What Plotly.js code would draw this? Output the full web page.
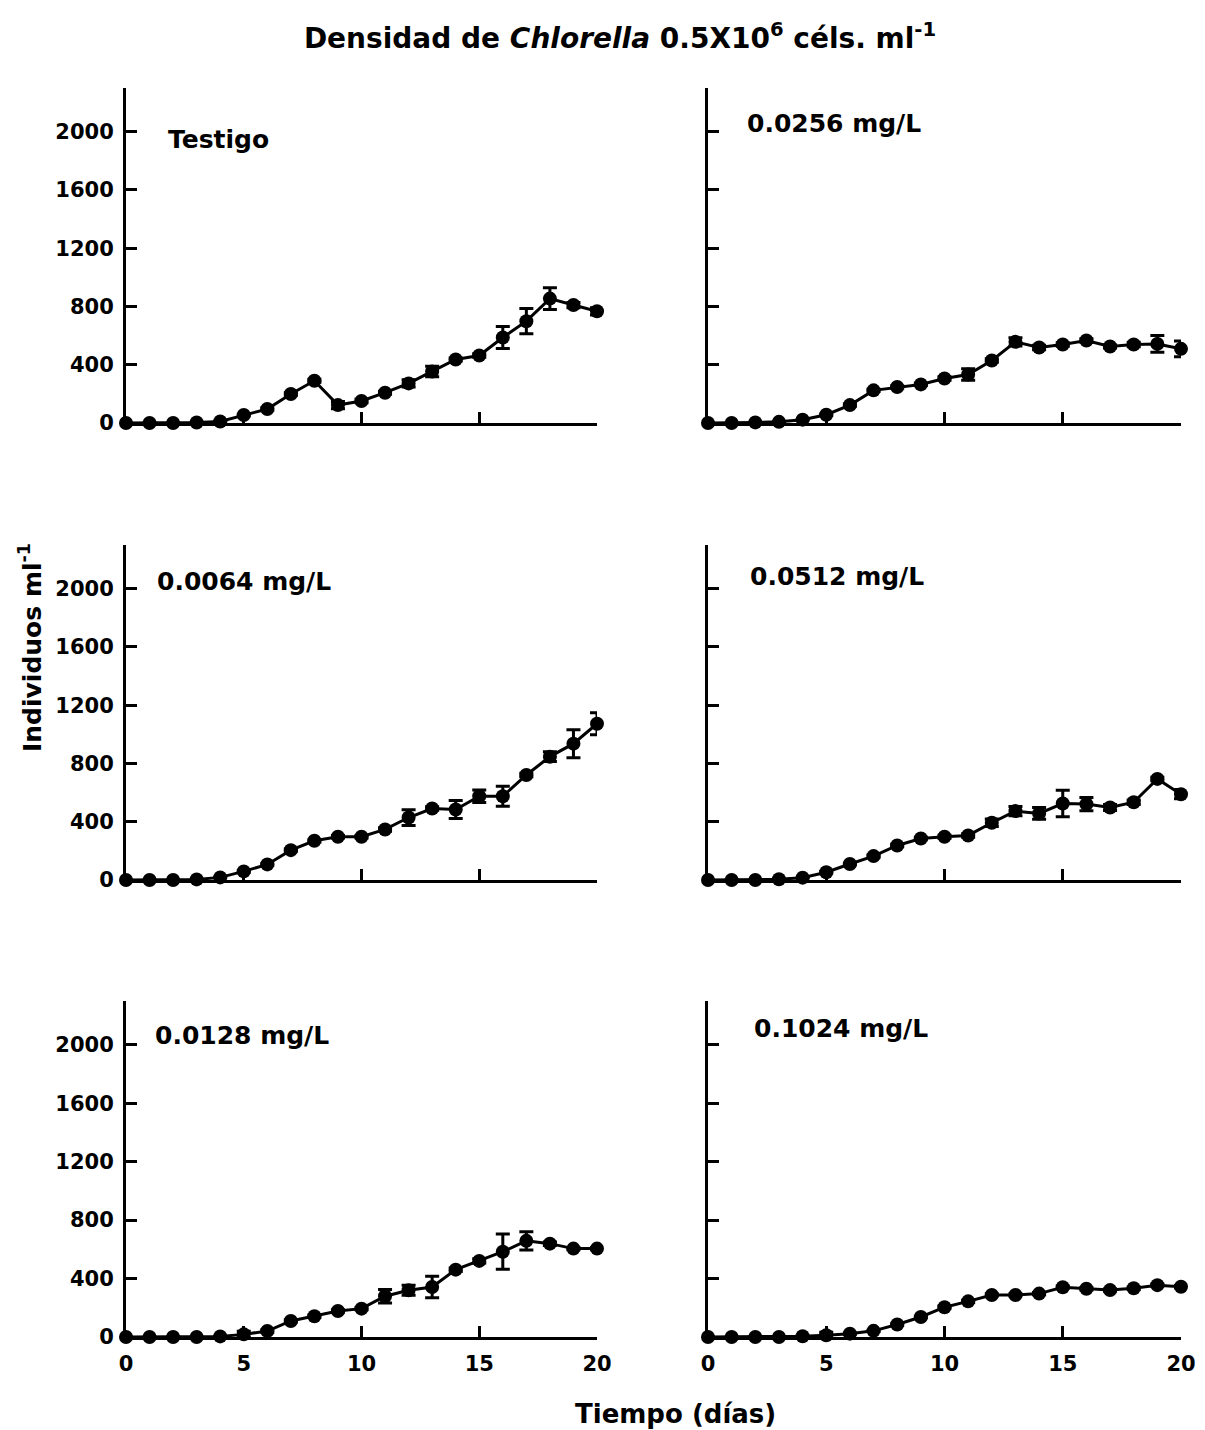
<!DOCTYPE html>
<html>
<head>
<meta charset="utf-8">
<script src="https://cdn.plot.ly/plotly-3.0.1.min.js"></script>
<style>
  html, body { margin: 0; padding: 0; background: #fff; }
  #chart { width: 1205px; height: 1430px; }
</style>
</head>
<body>
<div id="chart"></div>
<script>
// Days of culture
const days = [0,1,2,3,4,5,6,7,8,9,10,11,12,13,14,15,16,17,18,19,20];

// Mean density (individuals per ml) and error for each treatment
const testigoMean = [0,0,0,3,10,55,96,199,290,123,151,208,272,354,436,463,587,699,854,810,767];
const testigoErr  = [0,0,0,0,0,5,8,8,10,25,12,10,25,36,10,12,75,87,74,18,25];

const c0064Mean = [0,0,0,4,18,59,107,205,269,297,297,347,429,491,484,575,575,721,847,936,1073];
const c0064Err  = [0,0,0,0,0,5,5,8,8,8,8,12,54,12,62,43,68,12,34,96,75];

const c0128Mean = [0,0,0,0,4,18,41,110,142,178,194,279,320,342,461,521,584,658,639,605,605];
const c0128Err  = [0,0,0,0,0,22,8,8,8,8,8,46,34,73,12,15,121,63,12,8,8];

const c0256Mean = [0,0,4,8,23,57,123,224,247,265,306,333,429,557,518,539,566,525,539,543,509];
const c0256Err  = [0,0,0,0,0,5,8,8,8,8,12,40,12,29,15,12,12,10,15,57,54];

const c0512Mean = [0,0,0,5,16,53,110,164,237,285,297,306,393,473,457,525,521,498,534,694,589];
const c0512Err  = [0,0,0,0,0,5,5,8,8,8,10,12,25,32,40,91,46,20,15,12,32];

const c1024Mean = [0,0,0,0,5,12,23,42,86,137,204,244,288,288,297,341,330,321,334,355,344];
const c1024Err  = [0,0,0,0,0,20,5,5,5,5,8,8,8,8,8,8,8,8,8,8,8];

const panelLabels = ['Testigo','0.0256 mg/L','0.0064 mg/L','0.0512 mg/L','0.0128 mg/L','0.1024 mg/L'];
const xTicks = [0,5,10,15,20];
const yTicks = [0,400,800,1200,1600,2000];

// Panel order: row by row, left then right
const panels = [
  {mean: testigoMean, err: testigoErr},
  {mean: c0256Mean,   err: c0256Err},
  {mean: c0064Mean,   err: c0064Err},
  {mean: c0512Mean,   err: c0512Err},
  {mean: c0128Mean,   err: c0128Err},
  {mean: c1024Mean,   err: c1024Err}
];

const W = 1205, H = 1430;
const px = v => v / W;
const py = v => 1 - v / H;

// Plot-area boxes in pixels
const colX = [[126, 597], [708, 1181]];
const rowY = [[88, 423], [545, 880], [1001, 1337]];
const labelPos = [[166,139],[745,124],[155,581],[748,577],[153,1035],[752,1028]];

const traces = [];
const layout = {
  width: W, height: H,
  margin: {l: 0, r: 0, t: 0, b: 0},
  paper_bgcolor: '#fff', plot_bgcolor: 'rgba(0,0,0,0)',
  showlegend: false,
  font: {family: 'DejaVu Sans', size: 21, color: '#000', weight: 'bold'},
  title: {
    text: 'Densidad de <i>Chlorella</i> 0.5X10<sup>6</sup> céls. ml<sup>-1</sup>',
    x: 620 / W, xanchor: 'center', y: py(38), yanchor: 'middle',
    font: {family: 'DejaVu Sans', size: 28, color: '#000', weight: 'bold'}
  },
  annotations: []
};

panels.forEach((p, i) => {
  const row = Math.floor(i / 2), col = i % 2;
  const n = i + 1;
  const sfx = n === 1 ? '' : String(n);
  traces.push({
    type: 'scatter', mode: 'lines+markers',
    x: days, y: p.mean,
    xaxis: 'x' + sfx, yaxis: 'y' + sfx,
    line: {color: '#000', width: 3},
    marker: {color: '#000', size: 14, symbol: 'circle'},
    error_y: {type: 'data', array: p.err, visible: true, color: '#000', thickness: 3, width: 7},
    cliponaxis: false
  });
  layout['xaxis' + sfx] = {
    domain: [px(colX[col][0]), px(colX[col][1])],
    anchor: 'y' + sfx,
    range: [0, 20],
    tickvals: xTicks,
    ticks: 'inside', ticklen: 11, tickwidth: 3, tickcolor: '#000',
    showticklabels: row === 2,
    ticklabelstandoff: 6,
    showline: true, linecolor: '#000', linewidth: 3,
    showgrid: false, zeroline: false,
    tickfont: {size: 21}
  };
  layout['yaxis' + sfx] = {
    domain: [py(rowY[row][1]), py(rowY[row][0])],
    anchor: 'x' + sfx,
    range: [0, 2300],
    tickvals: yTicks,
    ticks: 'inside', ticklen: 11, tickwidth: 3, tickcolor: '#000',
    showticklabels: col === 0,
    ticklabelstandoff: 5,
    showline: true, linecolor: '#000', linewidth: 3,
    showgrid: false, zeroline: false,
    tickfont: {size: 21}
  };
  layout.annotations.push({
    text: panelLabels[i], xref: 'paper', yref: 'paper',
    x: px(labelPos[i][0]), y: py(labelPos[i][1]),
    xanchor: 'left', yanchor: 'middle', showarrow: false,
    font: {size: 25}
  });
});

// Shared axis titles
layout.annotations.push({
  text: 'Tiempo (días)', xref: 'paper', yref: 'paper',
  x: px(675), y: py(1414), xanchor: 'center', yanchor: 'middle',
  showarrow: false, font: {size: 26}
});
layout.annotations.push({
  text: 'Individuos ml<sup>-1</sup>', xref: 'paper', yref: 'paper',
  x: px(30), y: py(648), xanchor: 'center', yanchor: 'middle',
  textangle: -90, showarrow: false, font: {size: 25}
});

Plotly.newPlot('chart', traces, layout, {staticPlot: true, displayModeBar: false});
</script>
</body>
</html>
